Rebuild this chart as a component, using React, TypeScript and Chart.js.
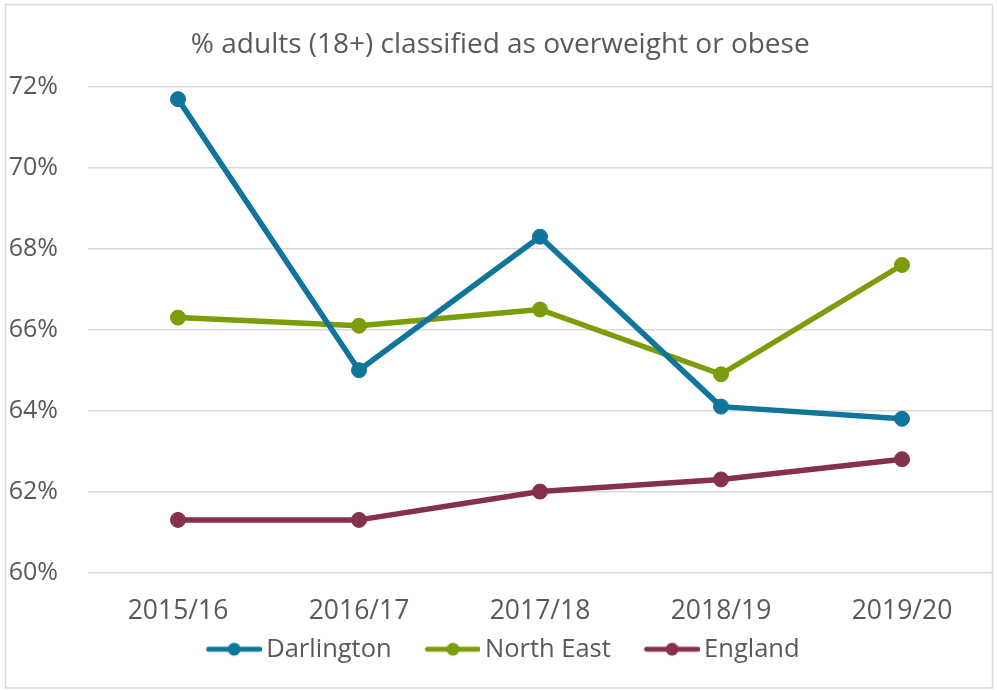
import React, { useEffect, useRef } from "react";
import { Chart, registerables } from "chart.js";

Chart.register(...registerables);

const categories = ["2015/16", "2016/17", "2017/18", "2018/19", "2019/20"];
const darlington = [71.7, 65.0, 68.3, 64.1, 63.8];
const northEast = [66.3, 66.1, 66.5, 64.9, 67.6];
const england = [61.3, 61.3, 62.0, 62.3, 62.8];
const seriesNames = ["Darlington", "North East", "England"];
const seriesColors = ["#0F759B", "#7C9D0A", "#86304F"];
const titleText = "% adults (18+) classified as overweight or obese";

const FONT = "'Open Sans', 'Noto Sans', sans-serif";
const TEXT = "#595959";

const CANVAS_W = 1001;
const LEG_BOX = 70.5;
const LEG_IMG_W = LEG_BOX + 17;
const LEG_LINE = 56;

function legendImage(color: string): HTMLCanvasElement {
  const c = document.createElement("canvas");
  c.width = LEG_IMG_W;
  c.height = 16;
  const ctx = c.getContext("2d")!;
  ctx.strokeStyle = color;
  ctx.lineWidth = 5;
  ctx.lineCap = "round";
  ctx.beginPath();
  ctx.moveTo(LEG_IMG_W - LEG_LINE + 2.5, 8);
  ctx.lineTo(LEG_IMG_W - 2.5, 8);
  ctx.stroke();
  ctx.fillStyle = color;
  ctx.beginPath();
  ctx.arc(LEG_IMG_W - LEG_LINE / 2, 8, 6.5, 0, Math.PI * 2);
  ctx.fill();
  return c;
}

const frame = {
  id: "frame",
  beforeDraw(chart: any) {
    const ctx = chart.ctx;
    ctx.save();
    ctx.fillStyle = "#ffffff";
    ctx.fillRect(0, 0, chart.width, chart.height);
    ctx.restore();
  },
  afterDraw(chart: any) {
    const ctx = chart.ctx;
    ctx.save();
    ctx.strokeStyle = "#d9d9d9";
    ctx.lineWidth = 1.5;
    ctx.strokeRect(5.5, 4.5, 987, 683.5);
    ctx.restore();
  },
  afterLayout(chart: any) {
    const lg = chart.legend;
    if (lg) {
      lg.left -= 9;
      lg.right -= 9;
    }
  },
};

export default function App() {
  const ref = useRef<HTMLCanvasElement | null>(null);
  useEffect(() => {
    if (!ref.current) return;
    const values = [darlington, northEast, england];
    const images = seriesColors.map(legendImage);
    const chart = new Chart(ref.current, {
      type: "line",
      data: {
        labels: categories,
        datasets: values.map((d, i) => ({
          label: seriesNames[i],
          data: d,
          borderColor: seriesColors[i],
          backgroundColor: seriesColors[i],
          borderWidth: 5.5,
          borderJoinStyle: "round" as const,
          borderCapStyle: "round" as const,
          pointRadius: 7.5,
          pointBorderWidth: 1,
          pointBackgroundColor: seriesColors[i],
          pointBorderColor: seriesColors[i],
          pointHoverRadius: 7.5,
          tension: 0,
          fill: false,
        })),
      },
      options: {
        animation: false,
        responsive: false,
        maintainAspectRatio: false,
        events: [],
        layout: { padding: { left: 0, right: 0.5, top: 0, bottom: 18 } },
        plugins: {
          tooltip: { enabled: false },
          title: {
            display: true,
            text: titleText,
            color: TEXT,
            font: { family: FONT, size: 28, weight: "normal" as const, lineHeight: 1.2 },
            padding: { top: 28.4, bottom: 25 },
          },
          legend: {
            display: true,
            position: "bottom" as const,
            labels: {
              color: TEXT,
              font: { family: FONT, size: 25.5, lineHeight: 1.2 },
              usePointStyle: true,
              pointStyleWidth: LEG_BOX,
              padding: 10,
              generateLabels: (ch: any) =>
                ch.data.datasets.map((ds: any, i: number) => ({
                  text: ds.label,
                  fillStyle: ds.borderColor,
                  strokeStyle: ds.borderColor,
                  lineWidth: 0,
                  pointStyle: images[i],
                  fontColor: TEXT,
                  hidden: false,
                  datasetIndex: i,
                })),
            },
          },
        },
        scales: {
          x: {
            offset: true,
            grid: { display: false, drawTicks: false },
            border: { display: false },
            ticks: {
              color: TEXT,
              font: { family: FONT, size: 26.5, lineHeight: 1.2 },
              padding: 23,
              maxRotation: 0,
            },
            afterFit: (s: any) => {
              s.height = 54;
            },
          },
          y: {
            min: 60,
            max: 72,
            grid: { color: "#d9d9d9", lineWidth: 1.5, drawTicks: false },
            border: { display: false },
            ticks: {
              stepSize: 2,
              color: TEXT,
              padding: 29.5,
              font: { family: FONT, size: 25, lineHeight: 1.2 },
              callback: (v: any) => `${v}%`,
            },
            afterFit: (s: any) => {
              s.width = 87.5;
            },
          },
        },
      },
      plugins: [frame],
    });
    return () => chart.destroy();
  }, []);
  return (
    <div style={{ position: "absolute", left: 0, top: 0, width: 997, height: 690, overflow: "hidden", background: "#fff" }}>
      <canvas ref={ref} width={CANVAS_W} height={690} style={{ display: "block", width: CANVAS_W, height: 690 }} />
    </div>
  );
}
